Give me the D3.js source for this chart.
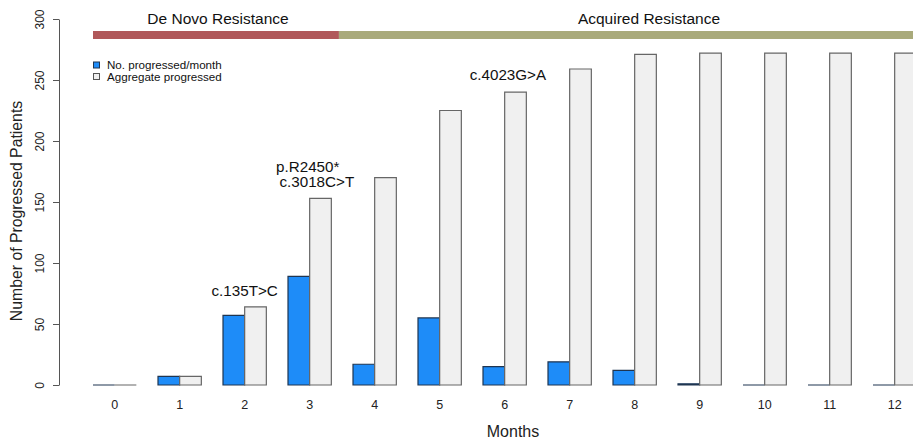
<!DOCTYPE html>
<html>
<head>
<meta charset="utf-8">
<script src="https://cdn.jsdelivr.net/npm/d3@7"></script>
<style>
  html, body { margin: 0; padding: 0; background: #fff; }
  svg { display: block; font-family: "Liberation Sans", Arial, Helvetica, sans-serif; }
</style>
</head>
<body>
<svg id="chart" width="913" height="442"></svg>
<script>
// ---- data ----
const months = [0, 1, 2, 3, 4, 5, 6, 7, 8, 9, 10, 11, 12];
const perMonth = [0, 7, 57, 89, 17, 55, 15, 19, 12, 1, 0, 0, 0];
const aggregate = [0, 7, 64, 153, 170, 225, 240, 259, 271, 272, 272, 272, 272];
const seriesNames = ["No. progressed/month", "Aggregate progressed"];
const yTicks = [0, 50, 100, 150, 200, 250, 300];
const phaseNames = ["De Novo Resistance", "Acquired Resistance"];
const phaseStart = [0, 3.45];
const phaseEnd = [3.45, 13];
const annoText = ["c.135T>C", "p.R2450*", "c.3018C>T", "c.4023G>A"];
const annoMonth = [2, 2.97, 3.11, 6.05];
const annoValue = [73, 175, 162, 250];

const colors = { blue: "#1E8CF8", gray: "#F0F0F0", red: "#B0585A", green: "#A9AA7B" };

const svg = d3.select("#chart");

// scales
const x = d3.scaleBand().domain(months).range([82.17, 927.17]).paddingInner(1/3).paddingOuter(1/6);
const xi = d3.scaleBand().domain([0, 1]).range([0, x.bandwidth()]);
const y = d3.scaleLinear().domain([0, 300]).range([385, 19]);
// continuous month position (center of group)
const xm = m => x(0) + x.bandwidth() / 2 + m * x.step();

// phase bands on top
const phases = phaseNames.map((n, i) => ({ name: n, s: phaseStart[i], e: phaseEnd[i] }));
svg.selectAll("rect.phase").data(phases).join("rect")
  .attr("class", "phase")
  .attr("x", (d, i) => i === 0 ? x(0) : xm(d.s))
  .attr("width", (d, i) => xm(d.e) - (i === 0 ? x(0) : xm(d.s)))
  .attr("y", 31).attr("height", 8)
  .attr("fill", (d, i) => i === 0 ? colors.red : colors.green);
svg.selectAll("text.phase").data(phases).join("text")
  .attr("class", "phase")
  .attr("x", (d, i) => i === 0 ? 218 : 649)
  .attr("y", 24)
  .attr("text-anchor", "middle")
  .attr("font-size", 15.5)
  .attr("fill", "#111")
  .text(d => d.name);

// bars as paths (so zero-height bars show a line like R)
const bars = [];
months.forEach((m, i) => {
  bars.push({ m, k: 0, v: perMonth[i] });
  bars.push({ m, k: 1, v: aggregate[i] });
});
svg.append("g").selectAll("path").data(bars).join("path")
  .attr("d", d => {
    const x0 = x(d.m) + xi(d.k), w = xi.bandwidth();
    const y0 = y(0), y1 = y(d.v);
    return `M${x0},${y0}V${y1}H${x0 + w}V${y0}Z`;
  })
  .attr("fill", d => d.k === 0 ? colors.blue : colors.gray)
  .attr("stroke", d => d.k === 0 ? "#1F3550" : "#666")
  .attr("stroke-width", 1.2);

// y axis
const yAxis = svg.append("g")
  .attr("transform", "translate(59,0)")
  .call(d3.axisLeft(y).tickValues(yTicks).tickSize(6).tickSizeOuter(0));
yAxis.select(".domain").attr("stroke", "#555");
yAxis.selectAll(".tick line").attr("stroke", "#555");
yAxis.selectAll(".tick text")
  .attr("x", 0).attr("y", 0).attr("dy", null)
  .attr("transform", "translate(-15,0) rotate(-90)")
  .attr("text-anchor", "middle")
  .attr("font-size", 12)
  .attr("font-family", "Liberation Sans, Arial, sans-serif")
  .attr("fill", "#222");

// x labels
svg.append("g").selectAll("text").data(months).join("text")
  .attr("x", d => x(d) + x.bandwidth() / 2)
  .attr("y", 409)
  .attr("text-anchor", "middle")
  .attr("font-size", 12.5)
  .attr("fill", "#222")
  .text(d => d);

// axis titles
svg.append("text").attr("x", 513).attr("y", 437).attr("text-anchor", "middle")
  .attr("font-size", 16).attr("fill", "#222").text("Months");
svg.append("text").attr("transform", "translate(22,211) rotate(-90)")
  .attr("text-anchor", "middle").attr("font-size", 15.8).attr("fill", "#222")
  .text("Number of Progressed Patients");

// legend
const leg = svg.append("g");
seriesNames.forEach((n, i) => {
  leg.append("rect").attr("x", 93.5).attr("y", 62 + i * 11.5).attr("width", 6).attr("height", 6)
    .attr("fill", i === 0 ? colors.blue : colors.gray)
    .attr("stroke", i === 0 ? "#1F3550" : "#555").attr("stroke-width", 1);
  leg.append("text").attr("x", 107).attr("y", 69 + i * 11.5)
    .attr("font-size", 11.6).attr("fill", "#111").text(n);
});

// annotations
svg.append("g").selectAll("text").data(annoText).join("text")
  .attr("x", (d, i) => xm(annoMonth[i]))
  .attr("y", (d, i) => y(annoValue[i]))
  .attr("text-anchor", "middle")
  .attr("font-size", 15.2)
  .attr("fill", "#111")
  .text(d => d);
</script>
</body>
</html>
